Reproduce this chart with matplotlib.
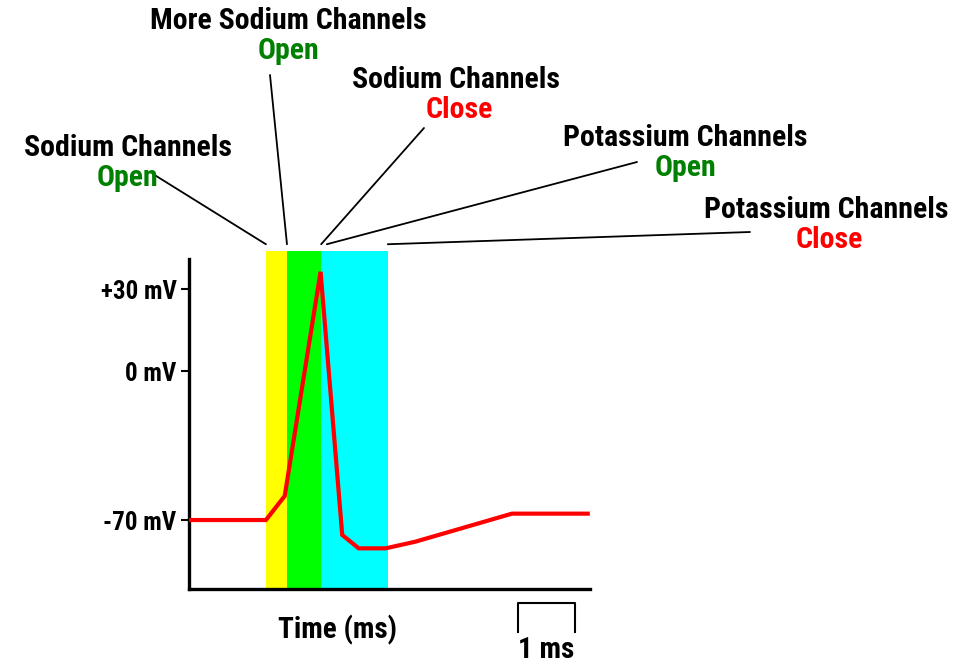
import numpy as np
import matplotlib
matplotlib.use("Agg")
import matplotlib.pyplot as plt

# action potential trace (time in ms, membrane potential in mV)
time_ms = [0.0, 1.35, 1.68, 2.31, 2.69, 2.98, 3.45, 3.97, 5.67, 7.0]
voltage_mv = [-70, -70, -58.7, 36.3, -77, -83.3, -83.3, -80.2, -67, -67]

# channel phases shaded behind the trace
band_edges_ms = [1.35, 1.72, 2.32, 3.49]
band_colors = ["#ffff00", "#00ff00", "#00ffff"]

ytick_mv = [30, 0, -70]
ytick_labels = ["+30 mV", "0 mV", "-70 mV"]

scale_bar_ms = 1.0
scale_bar_start_ms = 5.77

# labels: (heading, state, state colour, text centre px, leader outer end px, leader time ms)
labels = [
    ("Sodium Channels", "Open", "#008000", (128, 148), (153, 174), 1.35),
    ("More Sodium Channels", "Open", "#008000", (288, 21), (270, 75), 1.72),
    ("Sodium Channels", "Close", "#ff0000", (456, 80), (424, 128), 2.32),
    ("Potassium Channels", "Open", "#008000", (685, 138), (637, 162), 2.42),
    ("Potassium Channels", "Close", "#ff0000", (826, 210), (750, 232), 3.49),
]

W, H = 971, 665
FONT = ["Roboto Condensed", "Liberation Sans Narrow", "Roboto", "DejaVu Sans"]
plt.rcParams["font.family"] = FONT

# the original y axis is not linear: -70..0 and 0..+30 use different spacings
_knots_v = [-120, -70, 0, 30, 60]
_knots_u = [-106.4, 0, 149, 231, 313]


def fwd(v):
    return np.interp(v, _knots_v, _knots_u)


def inv(u):
    return np.interp(u, _knots_u, _knots_v)


fig = plt.figure(figsize=(W / 100, H / 100), dpi=100)
ax = fig.add_axes([189 / W, 1 - 589 / H, 401 / W, 338 / H])
ax.set_yscale("function", functions=(fwd, inv))
ax.set_xlim(0, 7.04)
ax.set_ylim(-102.4, 43.9)

for (x0, x1), c in zip(zip(band_edges_ms[:-1], band_edges_ms[1:]), band_colors):
    ax.axvspan(x0, x1, ymin=0, ymax=1, color=c, lw=0, zorder=0)

ax.plot(time_ms, voltage_mv, color="#ff0000", lw=3, solid_joinstyle="miter", zorder=3)

for s in ["top", "right"]:
    ax.spines[s].set_visible(False)
ax.spines["left"].set_linewidth(2.4)
ax.spines["bottom"].set_linewidth(2.4)
ax.spines["left"].set_bounds(-102.4, 41)
ax.set_xticks([])
ax.set_yticks(ytick_mv)
ax.set_yticklabels(ytick_labels)
ax.yaxis.set_minor_locator(matplotlib.ticker.NullLocator())
ax.tick_params(axis="y", length=6, width=1.5, pad=3, labelsize=18)
for t in ax.get_yticklabels():
    t.set_fontweight("bold")

ax.set_xlabel("Time (ms)", fontsize=21, fontweight="bold", labelpad=0)
ax.xaxis.set_label_coords((337 - 189) / 401, -(630 - 589) / 338)
ax.xaxis.label.set_va("center")

# 1 ms scale bar under the axis
bar_x = [scale_bar_start_ms, scale_bar_start_ms, scale_bar_start_ms + scale_bar_ms,
         scale_bar_start_ms + scale_bar_ms]
bar_y = [-(632 - 589) / 338, -(603 - 589) / 338, -(603 - 589) / 338, -(632 - 589) / 338]
ax.plot(bar_x, bar_y, color="black", lw=1.5, clip_on=False,
        transform=ax.get_xaxis_transform())
ax.text(scale_bar_start_ms + scale_bar_ms / 2, -(650 - 589) / 338, "1 ms",
        transform=ax.get_xaxis_transform(), ha="center", va="center",
        fontsize=21, fontweight="bold")

for head, state, col, (cx, cy), (lx, ly), t in labels:
    fig.text(cx / W, 1 - cy / H, head, ha="center", va="center",
             fontsize=21.5, fontweight="bold", color="black")
    fig.text(cx / W + (3 if state == "Close" else 0) / W, 1 - (cy + 30) / H, state,
             ha="center", va="center", fontsize=21.5, fontweight="bold", color=col)
    ax.annotate("", xy=(t, 1.02), xycoords=("data", "axes fraction"),
                xytext=(lx, H - ly), textcoords="figure pixels",
                arrowprops=dict(arrowstyle="-", color="black", lw=1.3,
                                shrinkA=0, shrinkB=0))

fig.savefig("out.png", dpi=100)
